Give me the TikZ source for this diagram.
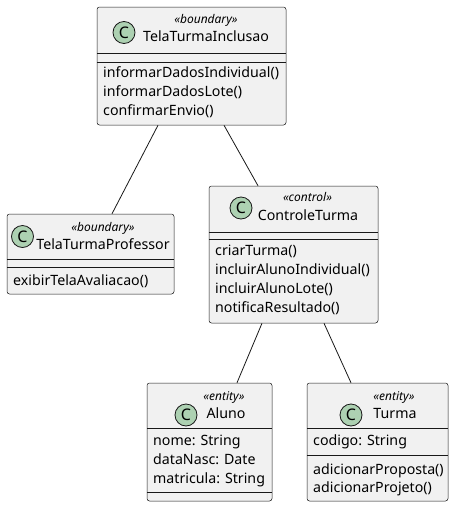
\documentclass[tikz,border=0pt]{standalone}
\usepackage{fontspec}
\setmainfont{Noto Sans}
\definecolor{boxfill}{HTML}{F1F1F1}
\definecolor{boxline}{HTML}{181818}
\definecolor{iconfill}{HTML}{ADD1B2}

\begin{document}
\begin{tikzpicture}[x=1pt,y=-1pt,
	classbox/.style={draw=boxline, fill=boxfill, rounded corners=2.5pt, line width=0.5pt, inner sep=0pt},
	divline/.style={draw=boxline, line width=0.5pt},
	assoc/.style={draw=boxline, line width=0.8pt},
	cicon/.style={draw=boxline, fill=iconfill, circle, minimum size=22pt, inner sep=0pt, line width=0.8pt, font=\fontsize{16}{18}\selectfont\bfseries},
	stereo/.style={anchor=mid, inner sep=0pt, font=\fontsize{12}{14}\selectfont\itshape},
	cname/.style={anchor=mid, inner sep=0pt, font=\fontsize{14.2}{16}\selectfont},
	member/.style={anchor=mid west, inner sep=0pt, font=\fontsize{14.2}{16}\selectfont}]
	\useasboundingbox (0,0) rectangle (454,507);

	% class boxes
	\node[classbox, minimum width=189pt, minimum height=118pt] (inclusao) at (191.5,66) {};
	\node[classbox, minimum width=167pt, minimum height=80pt] (professor) at (90.5,254) {};
	\node[classbox, minimum width=169pt, minimum height=137pt] (controle) at (293.5,254.5) {};
	\node[classbox, minimum width=125pt, minimum height=118pt] (aluno) at (209.5,442) {};
	\node[classbox, minimum width=141pt, minimum height=118pt] (turma) at (377.5,442) {};

	% dividers
	\draw[divline] (inclusao.west |- 0,53) -- (inclusao.east |- 0,53);
	\draw[divline] (inclusao.west |- 0,62) -- (inclusao.east |- 0,62);
	\draw[divline] (professor.west |- 0,259) -- (professor.east |- 0,259);
	\draw[divline] (professor.west |- 0,267) -- (professor.east |- 0,267);
	\draw[divline] (controle.west |- 0,232) -- (controle.east |- 0,232);
	\draw[divline] (controle.west |- 0,239) -- (controle.east |- 0,239);
	\draw[divline] (aluno.west |- 0,428) -- (aluno.east |- 0,428);
	\draw[divline] (aluno.west |- 0,492) -- (aluno.east |- 0,492);
	\draw[divline] (turma.west |- 0,428) -- (turma.east |- 0,428);
	\draw[divline] (turma.west |- 0,455) -- (turma.east |- 0,455);

	% TelaTurmaInclusao
	\node[cicon] (inclusaoIcon) at (124,32.5) {C};
	\node[stereo] (inclusaoStereo) at (206,21) {«boundary»};
	\node[cname] (inclusaoName) at (206,38.5) {TelaTurmaInclusao};
	\node[member] (inclusaoOp1) at (103,75) {informarDadosIndividual()};
	\node[member] (inclusaoOp2) at (103,94) {informarDadosLote()};
	\node[member] (inclusaoOp3) at (103,113) {confirmarEnvio()};

	% TelaTurmaProfessor
	\node[cicon] (professorIcon) at (22.5,236.5) {C};
	\node[stereo] (professorStereo) at (103,229) {«boundary»};
	\node[cname] (professorName) at (103,247) {TelaTurmaProfessor};
	\node[member] (professorOp1) at (13,283) {exibirTelaAvaliacao()};

	% ControleTurma
	\node[cicon] (controleIcon) at (241,208) {C};
	\node[stereo] (controleStereo) at (307.5,199) {«control»};
	\node[cname] (controleName) at (308,217.5) {ControleTurma};
	\node[member] (controleOp1) at (215,253) {criarTurma()};
	\node[member] (controleOp2) at (215,272) {incluirAlunoIndividual()};
	\node[member] (controleOp3) at (215,291) {incluirAlunoLote()};
	\node[member] (controleOp4) at (215,310) {notificaResultado()};

	% Aluno
	\node[cicon] (alunoIcon) at (186,415) {C};
	\node[stereo] (alunoStereo) at (224,398) {«entity»};
	\node[cname] (alunoName) at (226,415.5) {Aluno};
	\node[member] (alunoAttr1) at (153,443) {nome: String};
	\node[member] (alunoAttr2) at (153,462) {dataNasc: Date};
	\node[member] (alunoAttr3) at (153,481) {matricula: String};

	% Turma
	\node[cicon] (turmaIcon) at (351,415) {C};
	\node[stereo] (turmaStereo) at (394,398) {«entity»};
	\node[cname] (turmaName) at (395,415.5) {Turma};
	\node[member] (turmaAttr1) at (313,443) {codigo: String};
	\node[member] (turmaOp1) at (313,472) {adicionarProposta()};
	\node[member] (turmaOp2) at (313,490) {adicionarProjeto()};

	% associations
	\draw[assoc] ([xshift=-33.5pt]inclusao.south) -- ([xshift=21.5pt]professor.north);
	\draw[assoc] ([xshift=32.5pt]inclusao.south) -- ([xshift=-35.5pt]controle.north);
	\draw[assoc] ([xshift=-31.5pt]controle.south) -- ([xshift=27.5pt]aluno.north);
	\draw[assoc] ([xshift=30.5pt]controle.south) -- ([xshift=-26.5pt]turma.north);

\end{tikzpicture}
\end{document}
